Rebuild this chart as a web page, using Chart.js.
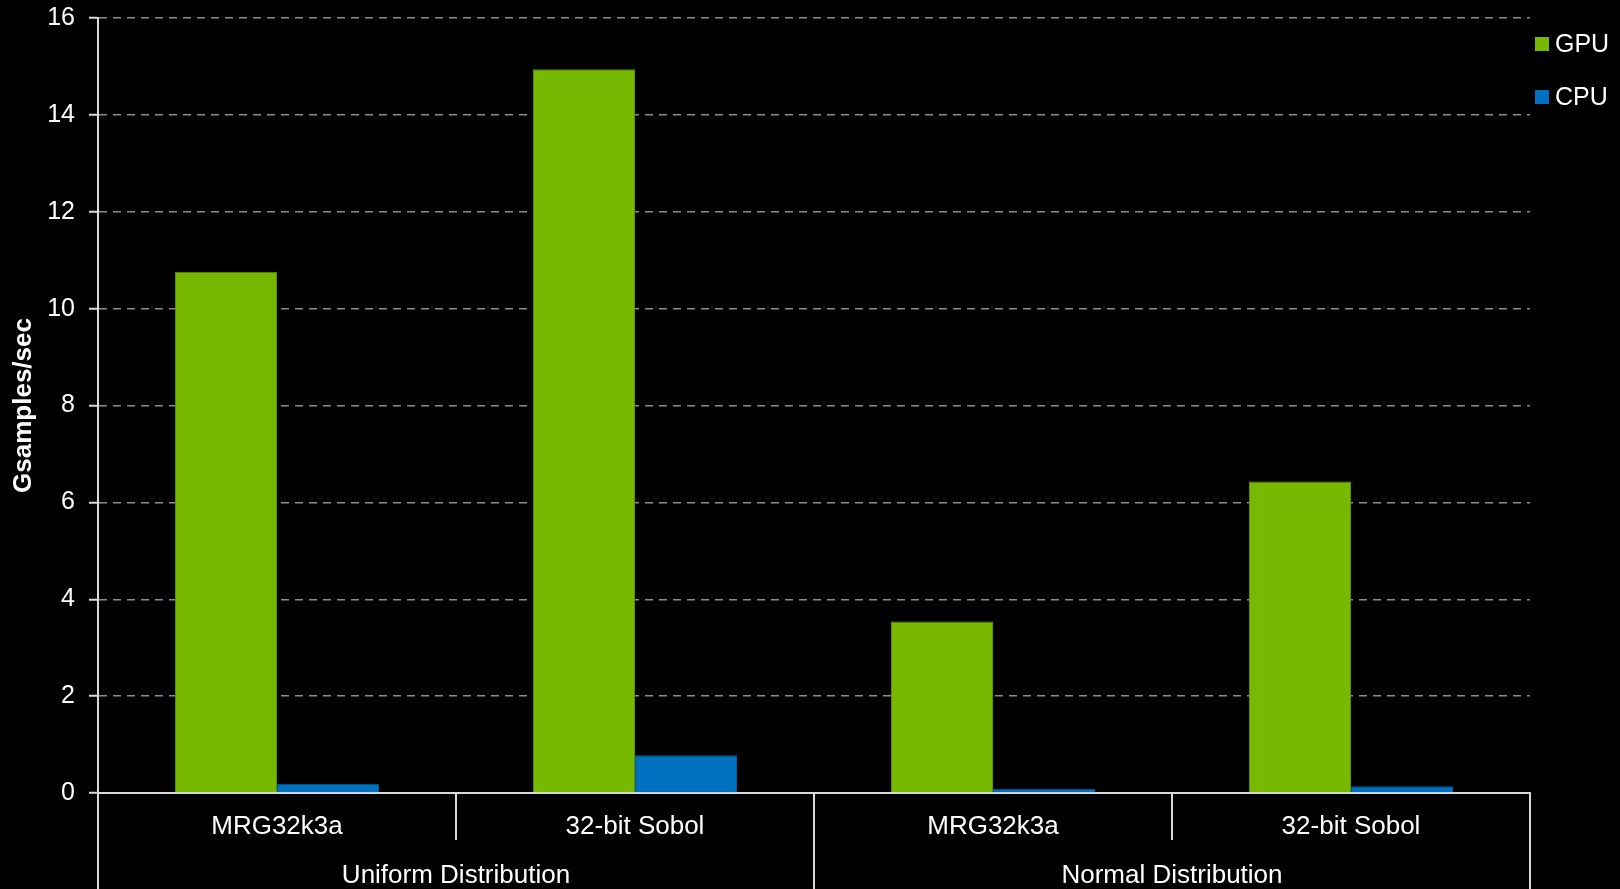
<!DOCTYPE html>
<html>
<head>
<meta charset="utf-8">
<script src="https://cdn.jsdelivr.net/npm/chart.js@4/dist/chart.umd.min.js"></script>
<style>
  html, body { margin: 0; padding: 0; background: #000; }
  canvas { display: block; }
</style>
</head>
<body>
<canvas id="chart" width="1620" height="889"></canvas>
<script>
// chart data
const generators = ['MRG32k3a', '32-bit Sobol', 'MRG32k3a', '32-bit Sobol'];
const distributions = ['Uniform Distribution', 'Normal Distribution'];
const gpuValues = [10.76, 14.94, 3.54, 6.43];
const cpuValues = [0.19, 0.78, 0.09, 0.14];
const yTicks = [0, 2, 4, 6, 8, 10, 12, 14, 16];

const axisColor = '#d9d9d9';
const fontFamily = "'Liberation Sans', Arial, sans-serif";

// separator lines in the two-row category axis + legend at top right
const decorations = {
    id: 'decorations',
    afterDraw(chart) {
        const ctx = chart.ctx;
        const x = chart.scales.x;
        const area = chart.chartArea;
        const n = generators.length;

        ctx.save();
        ctx.strokeStyle = axisColor;
        ctx.lineWidth = 2;
        for (let i = 0; i <= n; i++) {
            let px;
            if (i === 0) px = area.left;
            else if (i === n) px = area.right;
            else px = (x.getPixelForValue(i - 1) + x.getPixelForValue(i)) / 2;
            // group boundaries run to the bottom, inner ones stop after row 1
            const bottom = (i % 2 === 0) ? chart.height : x.bottom;
            ctx.beginPath();
            ctx.moveTo(Math.round(px), area.bottom);
            ctx.lineTo(Math.round(px), bottom);
            ctx.stroke();
        }

        // legend
        ctx.font = '25px ' + fontFamily;
        ctx.textBaseline = 'middle';
        ctx.textAlign = 'left';
        chart.data.datasets.forEach((ds, i) => {
            const cy = 44 + i * 53;
            ctx.fillStyle = ds.backgroundColor;
            ctx.fillRect(1535, cy - 7, 14, 14);
            ctx.fillStyle = '#fff';
            ctx.fillText(ds.label, 1555, cy + 1);
        });
        ctx.restore();
    }
};

const ctx = document.getElementById('chart').getContext('2d');
new Chart(ctx, {
    type: 'bar',
    data: {
        labels: generators,
        datasets: [
            {
                label: 'GPU',
                data: gpuValues,
                backgroundColor: '#76b900',
                borderColor: '#5e9400',
                borderWidth: 1
            },
            {
                label: 'CPU',
                data: cpuValues,
                backgroundColor: '#0070c0',
                borderColor: '#005a9a',
                borderWidth: 1
            }
        ]
    },
    options: {
        responsive: false,
        animation: false,
        layout: { padding: { left: 0, right: 90, top: 0, bottom: 0 } },
        datasets: { bar: { categoryPercentage: 0.57, barPercentage: 1.0 } },
        plugins: {
            legend: { display: false },
            tooltip: { enabled: false }
        },
        scales: {
            y: {
                min: 0,
                max: 16,
                afterBuildTicks: (scale) => { scale.ticks = yTicks.map(v => ({ value: v })); },
                afterFit: (scale) => {
                    scale.width = 98;
                    scale.paddingTop = 18;
                },
                ticks: {
                    color: '#fff',
                    font: { family: fontFamily, size: 25 },
                    padding: 14
                },
                grid: {
                    color: '#8c8c8c',
                    lineWidth: 1.5,
                    tickLength: 9,
                    tickColor: axisColor,
                    tickWidth: 2,
                    tickBorderDash: []
                },
                border: { display: true, color: axisColor, width: 2, dash: [8, 6] },
                title: {
                    display: true,
                    text: 'Gsamples/sec',
                    color: '#fff',
                    font: { family: fontFamily, size: 26, weight: 'bold' },
                    padding: { top: 8, bottom: 0 }
                }
            },
            x: {
                afterFit: (scale) => { scale.height = 47; },
                grid: { display: false, drawTicks: false },
                border: { display: true, color: axisColor, width: 2 },
                ticks: {
                    color: '#fff',
                    font: { family: fontFamily, size: 26 },
                    padding: 18,
                    maxRotation: 0
                }
            },
            x2: {
                type: 'category',
                position: 'bottom',
                labels: distributions,
                offset: true,
                afterFit: (scale) => { scale.height = 49; },
                grid: { display: false, drawTicks: false },
                border: { display: false },
                ticks: {
                    color: '#fff',
                    font: { family: fontFamily, size: 26 },
                    padding: 20,
                    maxRotation: 0
                }
            }
        }
    },
    plugins: [decorations]
});
</script>
</body>
</html>
